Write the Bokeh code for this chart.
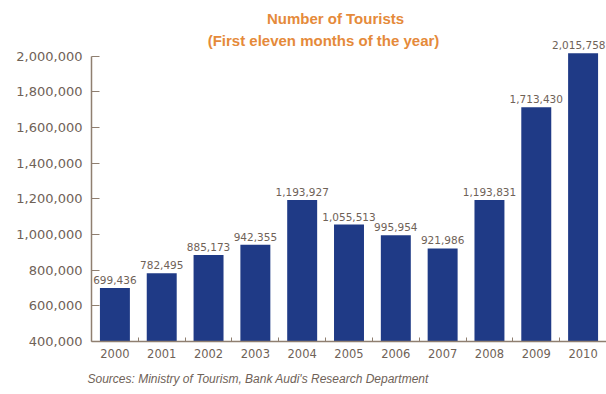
from bokeh.plotting import figure
from bokeh.models import (ColumnDataSource, Range1d, FixedTicker, NumeralTickFormatter,
                          Label, LabelSet, Title)
from bokeh.core.properties import value
from bokeh.embed import file_html
from bokeh.resources import INLINE

# ---- data ----
years = ["2000", "2001", "2002", "2003", "2004", "2005", "2006", "2007", "2008", "2009", "2010"]
tourists = [699436, 782495, 885173, 942355, 1193927, 1055513, 995954, 921986, 1193831, 1713430, 2015758]
value_labels = ["699,436", "782,495", "885,173", "942,355", "1,193,927", "1,055,513",
                "995,954", "921,986", "1,193,831", "1,713,430", "2,015,758"]
y_ticks = [400000, 600000, 800000, 1000000, 1200000, 1400000, 1600000, 1800000, 2000000]
title_line1 = "Number of Tourists"
title_line2 = "(First eleven months of the year)"
source_note = "Sources: Ministry of Tourism, Bank Audi's Research Department"

# ---- geometry ----
W, H = 606, 394
LEFT = 91          # y-axis position
AXIS_BOTTOM = 343  # x-axis position (px from top)
TOP_TICK = 56      # px position of 2,000,000
Y_MIN, Y_MAX = 400000, 2000000
px_per_val = (AXIS_BOTTOM - TOP_TICK) / (Y_MAX - Y_MIN)
y_end = Y_MAX + TOP_TICK / px_per_val
X0, X1 = -0.5, 10.5
step = (W - LEFT) / (X1 - X0)

def xdata(px):
    return X0 + (px - LEFT) / step

def ydata(py):
    return Y_MAX + (TOP_TICK - py) / px_per_val

TXT = "#6f6257"
AX = "#8f7f70"
BAR = "#1f3a86"
ORANGE = "#e58a3a"

idx = list(range(len(years)))
src = ColumnDataSource(dict(x=idx, top=tourists, lab=value_labels))
lab_src = ColumnDataSource(dict(x=idx[:-1], top=tourists[:-1], lab=value_labels[:-1]))

p = figure(width=W, height=H, output_backend="svg", toolbar_location=None,
           x_range=Range1d(X0, X1), y_range=Range1d(Y_MIN, y_end),
           min_border_left=LEFT, min_border_right=0, min_border_top=0,
           min_border_bottom=H - AXIS_BOTTOM)
p.outline_line_color = None
p.grid.visible = False
p.background_fill_color = "white"
p.border_fill_color = "white"

p.vbar(x="x", top="top", bottom=Y_MIN, width=0.64, source=src,
       fill_color=BAR, line_color=None)

lab_style = dict(text_color=TXT, text_font_size="10.5px", text_baseline="bottom", y_offset=4)
p.add_layout(LabelSet(x="x", y="top", text="lab", source=lab_src, text_align="center",
                      text_font=value("DejaVu Sans"), **lab_style))
# last label kept inside the right edge
p.add_layout(Label(x=X1, y=tourists[-1], text=value_labels[-1], text_align="right",
                   x_offset=-1, text_font="DejaVu Sans", **lab_style))

# y axis
ya = p.yaxis[0]
ya.ticker = FixedTicker(ticks=y_ticks)
ya.bounds = (Y_MIN, Y_MAX)
ya.formatter = NumeralTickFormatter(format="0,0")
ya.major_tick_in = 8
ya.major_tick_out = 0
ya.minor_tick_line_color = None
ya.axis_line_color = AX
ya.axis_line_width = 1.5
ya.major_tick_line_color = AX
ya.major_label_text_color = TXT
ya.major_label_text_font = "DejaVu Sans"
ya.major_label_text_font_size = "13px"
ya.major_label_standoff = 9

# x axis
xa = p.xaxis[0]
xa.ticker = FixedTicker(ticks=idx, minor_ticks=[i + 0.5 for i in idx[:-1]])
xa.major_label_overrides = {i: y for i, y in zip(idx, years)}
xa.major_tick_in = 0
xa.major_tick_out = 0
xa.minor_tick_in = 4
xa.minor_tick_out = 0
xa.minor_tick_line_color = AX
xa.axis_line_color = AX
xa.axis_line_width = 1.5
xa.major_label_text_color = TXT
xa.major_label_text_font = "DejaVu Sans"
xa.major_label_text_font_size = "11.5px"
xa.major_label_standoff = 7

# titles
p.add_layout(Label(x=xdata(335), y=ydata(18), text=title_line1, text_align="center",
                   text_baseline="middle", text_color=ORANGE, text_font="Liberation Sans",
                   text_font_style="bold", text_font_size="15px"))
p.add_layout(Label(x=xdata(323), y=ydata(40), text=title_line2, text_align="center",
                   text_baseline="middle", text_color=ORANGE, text_font="Liberation Sans",
                   text_font_style="bold", text_font_size="15px"))

# source note
p.add_layout(Title(text=source_note, align="left", text_font="Liberation Sans",
                   text_font_style="italic", text_font_size="12px",
                   text_color=TXT, offset=-4, standoff=18), "below")

open("out.html", "w").write(file_html(p, INLINE))
